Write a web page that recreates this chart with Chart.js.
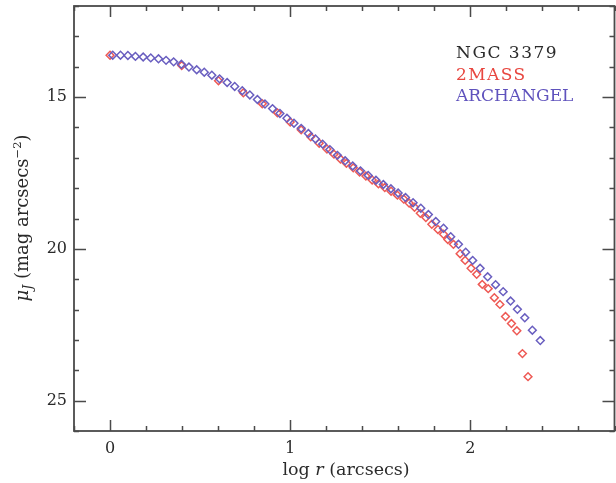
<!DOCTYPE html>
<html><head><meta charset="utf-8">
<script src="https://cdn.jsdelivr.net/npm/chart.js@4.4.1/dist/chart.umd.min.js"></script>
<style>html,body{margin:0;padding:0;background:#fff;overflow:hidden}#wrap{width:620px;height:483px}</style>
</head><body><div id="wrap"><canvas id="c" width="620" height="483"></canvas></div>
<script>
// ARCHANGEL profile (log r in arcsec, mu_J in mag arcsec^-2)
const archangelLogR = [0.015,0.058,0.099,0.141,0.184,0.226,0.269,0.311,0.353,0.396,0.438,0.481,0.523,0.565,0.608,0.650,0.692,0.734,0.776,0.818,0.860,0.902,0.943,0.982,1.021,1.061,1.101,1.140,1.180,1.220,1.262,1.305,1.347,1.390,1.433,1.476,1.517,1.559,1.599,1.640,1.682,1.725,1.767,1.808,1.851,1.891,1.934,1.974,2.013,2.054,2.096,2.140,2.182,2.223,2.261,2.302,2.344,2.388];
const archangelMu   = [13.62,13.62,13.63,13.66,13.68,13.71,13.74,13.79,13.84,13.92,14.01,14.10,14.18,14.28,14.40,14.52,14.65,14.79,14.93,15.08,15.23,15.38,15.54,15.70,15.86,16.03,16.20,16.38,16.55,16.73,16.92,17.10,17.27,17.43,17.58,17.74,17.88,18.02,18.16,18.31,18.48,18.66,18.87,19.10,19.32,19.60,19.85,20.11,20.38,20.64,20.92,21.18,21.41,21.72,21.99,22.27,22.68,23.02];
// 2MASS profile
const twomassLogR = [0.000,0.398,0.602,0.740,0.845,0.929,1.000,1.061,1.114,1.161,1.204,1.243,1.279,1.312,1.350,1.385,1.420,1.455,1.490,1.525,1.560,1.595,1.630,1.660,1.690,1.722,1.753,1.786,1.820,1.851,1.875,1.906,1.943,1.971,2.004,2.035,2.066,2.099,2.133,2.164,2.195,2.228,2.258,2.289,2.320];
const twomassMu   = [13.62,13.96,14.46,14.86,15.22,15.52,15.82,16.08,16.31,16.52,16.71,16.88,17.04,17.18,17.33,17.47,17.60,17.73,17.86,17.98,18.10,18.23,18.36,18.49,18.63,18.83,18.97,19.19,19.36,19.52,19.69,19.85,20.16,20.38,20.64,20.84,21.17,21.31,21.61,21.83,22.23,22.46,22.70,23.45,24.21];
const xMajorTicks = [0, 1, 2];
const yMajorTicks = [15, 20, 25];
const legendLabels = ['NGC 3379', '2MASS', 'ARCHANGEL'];

const RED = '#ee5a55', BLUE = '#6a5fc0', AXIS = '#4a4a4a', TXT = '#2a2a2a';
const SERIF = '"DejaVu Serif", "Liberation Serif", serif';

function toPts(xs, ys){ return xs.map((v,i)=>({x:v, y:ys[i]})); }
function isMajor(v, list){ return list.some(m => Math.abs(m - v) < 1e-6); }

const framePlugin = {
  id: 'frame',
  afterDraw(chart){
    const {ctx, chartArea:a, scales:{x, y}} = chart;
    ctx.save();
    ctx.strokeStyle = AXIS; ctx.lineWidth = 1.8;
    ctx.strokeRect(a.left, a.top, a.right - a.left, a.bottom - a.top);
    ctx.lineWidth = 1.5;
    ctx.beginPath();
    x.ticks.forEach(t => {
      const px = Math.round(x.getPixelForValue(t.value)) + 0.5;
      const len = isMajor(t.value, xMajorTicks) ? 11 : 5;
      ctx.moveTo(px, a.bottom); ctx.lineTo(px, a.bottom - len);
      ctx.moveTo(px, a.top); ctx.lineTo(px, a.top + len);
    });
    y.ticks.forEach(t => {
      const py = Math.round(y.getPixelForValue(t.value)) + 0.5;
      const len = isMajor(t.value, yMajorTicks) ? 12 : 5;
      ctx.moveTo(a.left, py); ctx.lineTo(a.left + len, py);
      ctx.moveTo(a.right, py); ctx.lineTo(a.right - len, py);
    });
    ctx.stroke();

    // x axis title: log r (arcsecs)
    const parts = [
      {t:'log ', f:'17.5px ' + SERIF},
      {t:'r', f:'italic 17.5px ' + SERIF},
      {t:' (arcsecs)', f:'17.5px ' + SERIF}
    ];
    let w = 0;
    parts.forEach(p => { ctx.font = p.f; p.w = ctx.measureText(p.t).width; w += p.w; });
    let cx = 346 - w/2;
    ctx.fillStyle = TXT; ctx.textBaseline = 'alphabetic'; ctx.textAlign = 'left';
    parts.forEach(p => { ctx.font = p.f; ctx.fillText(p.t, cx, 475); cx += p.w; });

    // y axis title: mu_J (mag arcsecs^-2)
    const yp = [
      {t:'\u03bc', f:'italic 18px ' + SERIF, dy:0},
      {t:'J', f:'italic 12.5px ' + SERIF, dy:4},
      {t:' (mag arcsecs', f:'18px ' + SERIF, dy:0},
      {t:'\u22122', f:'11.5px ' + SERIF, dy:-7.5},
      {t:')', f:'18px ' + SERIF, dy:0}
    ];
    w = 0;
    yp.forEach(p => { ctx.font = p.f; p.w = ctx.measureText(p.t).width; w += p.w; });
    ctx.save();
    ctx.translate(28, 218);
    ctx.rotate(-Math.PI/2);
    cx = -w/2;
    yp.forEach(p => { ctx.font = p.f; ctx.fillText(p.t, cx, p.dy); cx += p.w; });
    ctx.restore();

    // legend text
    const cols = [TXT, '#e8463f', '#5f52bd'];
    const spacing = ['1.5px', '1.4px', '0px'];
    ctx.font = '17px ' + SERIF;
    legendLabels.forEach((s, i) => {
      ctx.letterSpacing = spacing[i];
      ctx.fillStyle = cols[i]; ctx.fillText(s, 456, 58 + i*21.5);
    });
    ctx.letterSpacing = '0px';
    ctx.restore();
  }
};

new Chart(document.getElementById('c'), {
  type: 'scatter',
  data: {
    datasets: [
      {label: legendLabels[2], data: toPts(archangelLogR, archangelMu), pointStyle: 'rectRot',
       pointRadius: 3.9, pointBorderWidth: 1.5, borderColor: BLUE, backgroundColor: 'rgba(0,0,0,0)', showLine: false},
      {label: legendLabels[1], data: toPts(twomassLogR, twomassMu), pointStyle: 'rectRot',
       pointRadius: 3.9, pointBorderWidth: 1.5, borderColor: RED, backgroundColor: 'rgba(0,0,0,0)', showLine: false}
    ]
  },
  options: {
    responsive: false, animation: false, events: [],
    layout: {padding: {top: 6, right: 3, left: 0, bottom: 0}},
    plugins: {legend: {display: false}, tooltip: {enabled: false}},
    scales: {
      x: {type: 'linear', min: -0.2, max: 2.8,
          border: {display: false},
          grid: {display: false, drawTicks: false},
          ticks: {stepSize: 0.2, autoSkip: false, maxRotation: 0, padding: 8, color: TXT,
                  font: {family: SERIF, size: 16},
                  callback: v => isMajor(v, xMajorTicks) ? String(Math.round(v)) : ''},
          afterFit: s => { s.height = 52; s.paddingLeft = 0; s.paddingRight = 0; }},
      y: {type: 'linear', min: 12, max: 26, reverse: true,
          border: {display: false},
          grid: {display: false, drawTicks: false},
          ticks: {stepSize: 1, autoSkip: false, padding: 7, color: TXT,
                  font: {family: SERIF, size: 16},
                  callback: v => isMajor(v, yMajorTicks) ? String(Math.round(v)) : ''},
          afterFit: s => { s.width = 74; s.paddingTop = 0; s.paddingBottom = 0; }}
    }
  },
  plugins: [framePlugin]
});
</script></body></html>
